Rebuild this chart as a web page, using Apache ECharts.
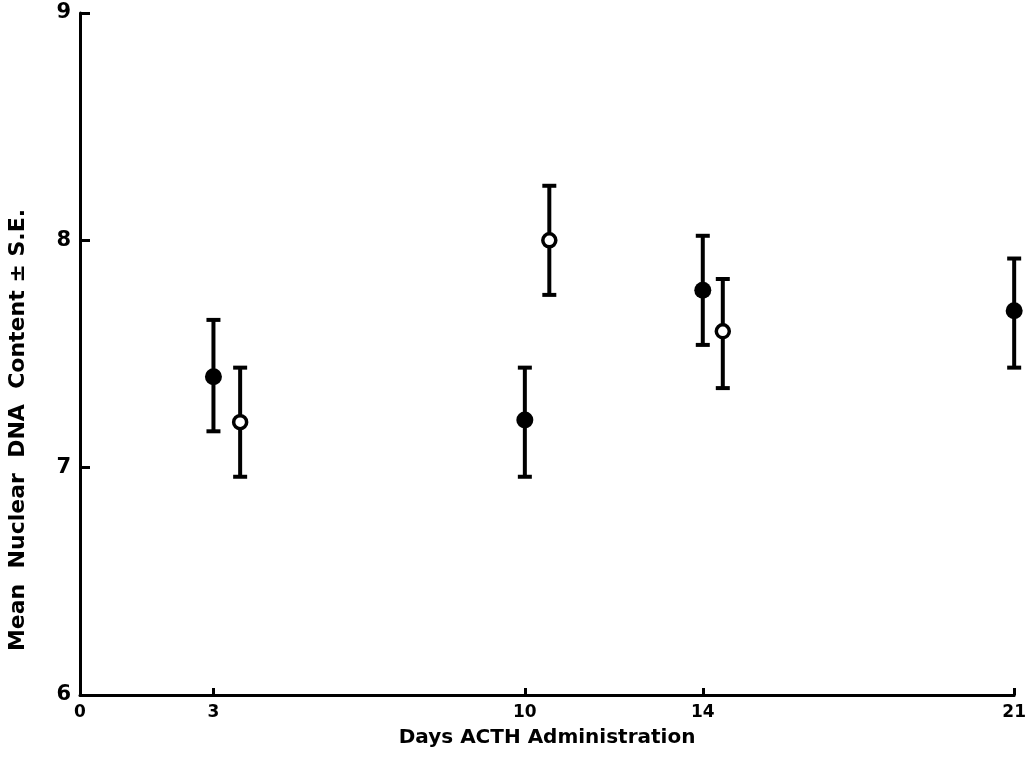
<!DOCTYPE html>
<html>
<head>
<meta charset="utf-8">
<script src="https://cdn.jsdelivr.net/npm/echarts@6/dist/echarts.min.js"></script>
<style>html,body{margin:0;padding:0;background:#fff;}#c{width:1029px;height:758px;}</style>
</head>
<body>
<div id="c"></div>
<script>
// Filled circles
const filledDays = [3, 10, 14, 21];
const filledMean = [7.40, 7.21, 7.78, 7.69];
const filledLow  = [7.16, 6.96, 7.54, 7.44];
const filledHigh = [7.65, 7.44, 8.02, 7.92];
// Open circles (plotted slightly right of the day)
const openDays = [3.6, 10.55, 14.45];
const openMean = [7.20, 8.00, 7.60];
const openLow  = [6.96, 7.76, 7.35];
const openHigh = [7.44, 8.24, 7.83];

const xLabelValues = [0, 3, 10, 14, 21];
const xTickValues = [3, 10, 14, 21];
const yTicks = [6, 7, 8, 9];

const FONT = 'DejaVu Sans';

const filledPts = filledDays.map((d, i) => [d, filledMean[i]]);
const openPts = openDays.map((d, i) => [d, openMean[i]]);
const bars = filledDays.map((d, i) => [d, filledLow[i], filledHigh[i]])
  .concat(openDays.map((d, i) => [d, openLow[i], openHigh[i]]));

function renderBar(params, api) {
  const x = api.value(0);
  const lo = api.coord([x, api.value(1)]);
  const hi = api.coord([x, api.value(2)]);
  const hw = 7;
  const st = { stroke: '#000', lineWidth: 4 };
  return {
    type: 'group',
    children: [
      { type: 'line', shape: { x1: hi[0], y1: hi[1], x2: lo[0], y2: lo[1] }, style: st },
      { type: 'line', shape: { x1: hi[0] - hw, y1: hi[1], x2: hi[0] + hw, y2: hi[1] }, style: st },
      { type: 'line', shape: { x1: lo[0] - hw, y1: lo[1], x2: lo[0] + hw, y2: lo[1] }, style: st }
    ]
  };
}

const chart = echarts.init(document.getElementById('c'), null, { renderer: 'canvas' });
chart.setOption({
  backgroundColor: '#fff',
  animation: false,
  grid: { left: 80, right: 14, top: 13, bottom: 63, containLabel: false },
  xAxis: {
    type: 'value', min: 0, max: 21,
    axisLine: { show: true, lineStyle: { color: '#000', width: 3 } },
    axisTick: { show: true, inside: true, length: 7, customValues: xTickValues, lineStyle: { color: '#000', width: 3 } },
    axisLabel: { customValues: xLabelValues, color: '#000', fontFamily: FONT, fontWeight: 'bold', fontSize: 17, margin: 9 },
    splitLine: { show: false },
    name: 'Days ACTH Administration',
    nameLocation: 'middle', nameGap: 33,
    nameTextStyle: { color: '#000', fontFamily: FONT, fontWeight: 'bold', fontSize: 20 }
  },
  yAxis: {
    type: 'value', min: 6, max: 9, interval: 1,
    axisLine: { show: true, lineStyle: { color: '#000', width: 3 } },
    axisTick: { show: true, inside: true, length: 10, customValues: [7, 8, 9], lineStyle: { color: '#000', width: 3 } },
    axisLabel: { customValues: yTicks, color: '#000', fontFamily: FONT, fontWeight: 'bold', fontSize: 21, margin: 9 },
    splitLine: { show: false }
  },
  graphic: [{
    type: 'text', x: 18, y: 430, rotation: Math.PI / 2,
    style: { text: 'Mean  Nuclear  DNA  Content ± S.E.', fill: '#000', font: 'bold 22px "DejaVu Sans"', align: 'center', verticalAlign: 'middle' }
  }],
  series: [
    { type: 'custom', renderItem: renderBar, data: bars, z: 2, silent: true },
    { type: 'scatter', data: filledPts, symbol: 'circle', symbolSize: 17, z: 3,
      itemStyle: { color: '#000', opacity: 1 } },
    { type: 'scatter', data: openPts, symbol: 'circle', symbolSize: 13, z: 3,
      itemStyle: { color: '#fff', borderColor: '#000', borderWidth: 3.5, opacity: 1 } }
  ]
});
</script>
</body>
</html>
